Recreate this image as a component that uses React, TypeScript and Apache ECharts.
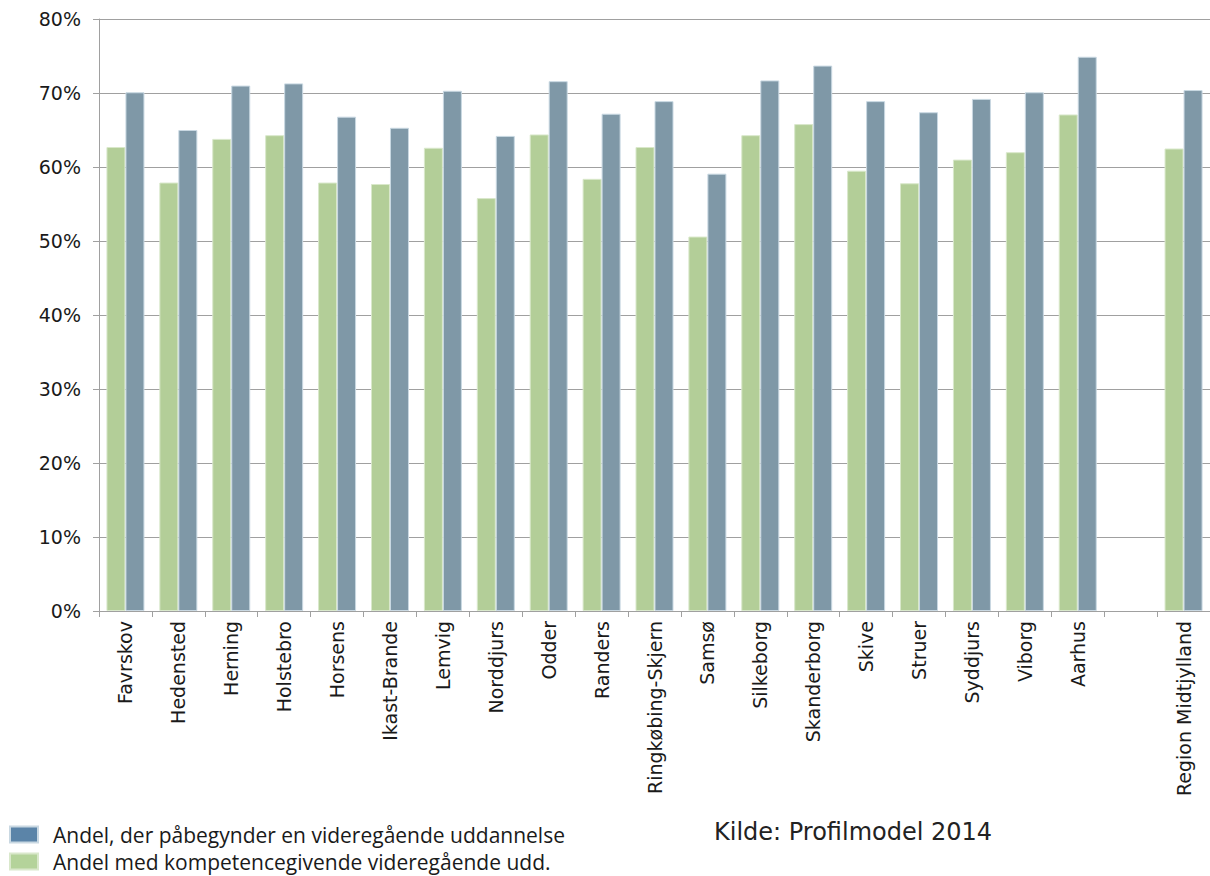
import React, { useEffect, useRef } from "react";
import * as echarts from "echarts";

const categories = [
  "Favrskov", "Hedensted", "Herning", "Holstebro", "Horsens", "Ikast-Brande",
  "Lemvig", "Norddjurs", "Odder", "Randers", "Ringkøbing-Skjern", "Samsø",
  "Silkeborg", "Skanderborg", "Skive", "Struer", "Syddjurs", "Viborg", "Aarhus",
  "", "Region Midtjylland",
];

const greenName = "Andel med kompetencegivende videregående udd.";
const blueName = "Andel, der påbegynder en videregående uddannelse";

const greenValues = [
  62.7, 57.9, 63.8, 64.3, 57.9, 57.7, 62.6, 55.8, 64.4, 58.4, 62.7, 50.6,
  64.3, 65.8, 59.5, 57.8, 61.0, 62.0, 67.1, null, 62.5,
];
const blueValues = [
  70.1, 65.0, 71.0, 71.3, 66.8, 65.3, 70.3, 64.2, 71.6, 67.2, 68.9, 59.1,
  71.7, 73.7, 68.9, 67.4, 69.2, 70.1, 74.9, null, 70.4,
];

const yTicks = { min: 0, max: 80, interval: 10 };
const sourceText = "Kilde: Profilmodel 2014";

export default function App() {
  const ref = useRef<HTMLDivElement>(null);
  useEffect(() => {
    if (!ref.current) return;
    const chart = echarts.init(ref.current, null, { renderer: "svg" });
    chart.setOption({
      animation: false,
      backgroundColor: "#ffffff",
      grid: { left: 99, right: -2, top: 19, bottom: 265, containLabel: false },
      xAxis: {
        type: "category",
        data: categories,
        boundaryGap: true,
        axisLine: { show: true, lineStyle: { color: "#a0a0a0", width: 1 } },
        axisTick: { show: true, alignWithLabel: false, length: 6, lineStyle: { color: "#a0a0a0" } },
        axisLabel: {
          interval: 0,
          rotate: 90,
          margin: 10,
          color: "#1a1a1a",
          fontFamily: "DejaVu Sans",
          fontSize: 19,
        },
      },
      yAxis: {
        type: "value",
        min: yTicks.min,
        max: yTicks.max,
        interval: yTicks.interval,
        axisLine: { show: true, lineStyle: { color: "#a0a0a0", width: 1 } },
        axisTick: { show: true, length: 6, lineStyle: { color: "#a0a0a0" } },
        splitLine: { show: true, lineStyle: { color: "#a0a0a0", width: 1 } },
        axisLabel: {
          formatter: "{value}%",
          margin: 18,
          color: "#1a1a1a",
          fontFamily: "DejaVu Sans",
          fontSize: 19,
        },
      },
      legend: {
        orient: "vertical",
        left: 9,
        top: 824,
        padding: 0,
        itemWidth: 28,
        itemHeight: 16,
        itemGap: 6,
        icon: "rect",
        textStyle: {
          fontFamily: "Open Sans",
          fontSize: 21,
          color: "#1a1a1a",
          lineHeight: 21,
          padding: [0, 0, 0, 10],
        },
        data: [
          { name: blueName, itemStyle: { color: "#5b84a8" } },
          { name: greenName, itemStyle: { color: "#b4d39a" } },
        ],
      },
      graphic: [
        {
          type: "text",
          left: 714,
          top: 820,
          style: {
            text: sourceText,
            fontFamily: "DejaVu Sans",
            fontSize: 24,
            fill: "#222222",
          },
        },
      ],
      series: [
        {
          name: greenName,
          type: "bar",
          data: greenValues,
          barWidth: 19,
          barGap: "0%",
          itemStyle: { color: "#b3ce98", borderColor: "#d9e8cb", borderWidth: 1 },
        },
        {
          name: blueName,
          type: "bar",
          data: blueValues,
          barWidth: 19,
          barGap: "0%",
          itemStyle: { color: "#7f98a7", borderColor: "#c9d8e2", borderWidth: 1 },
        },
      ],
    });
    return () => chart.dispose();
  }, []);
  return (
    <div
      ref={ref}
      style={{ position: "fixed", left: 0, top: 0, width: 1210, height: 876 }}
    />
  );
}
